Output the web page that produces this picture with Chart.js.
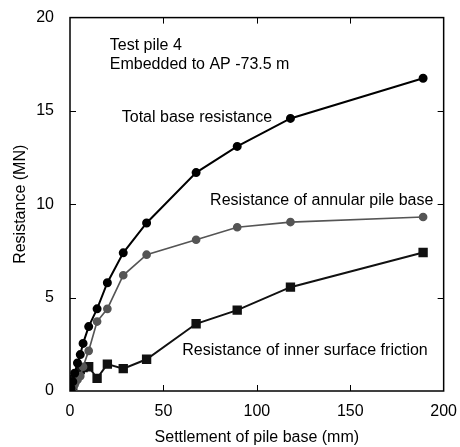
<!DOCTYPE html>
<html>
<head>
<meta charset="utf-8">
<script src="https://cdn.jsdelivr.net/npm/chart.js@4/dist/chart.umd.min.js"></script>
<style>
  html, body { margin: 0; padding: 0; background: #fff; }
  #wrap { width: 460px; height: 447px; }
</style>
</head>
<body>
<div id="wrap"><canvas id="pileChart" width="460" height="447"></canvas></div>
<script>
// settlement of pile base (mm), shared by all three curves
const settlement = [0, 0.5, 1.5, 2.5, 4, 5.5, 7, 10, 14.5, 20, 28.5, 41, 67.5, 89.5, 118, 189];
const totalBase = [0, 0.15, 0.5, 0.95, 1.5, 1.95, 2.55, 3.45, 4.4, 5.8, 7.4, 9.0, 11.7, 13.1, 14.6, 16.75];
const annularBase = [0, 0.05, 0.2, 0.35, 0.6, 0.8, 1.3, 2.15, 3.72, 4.4, 6.2, 7.3, 8.1, 8.77, 9.05, 9.32];
const innerFriction = [0, 0.1, 0.3, 0.6, 0.9, 1.15, 1.25, 1.3, 0.68, 1.44, 1.2, 1.7, 3.6, 4.33, 5.56, 7.42];

const xTicks = [0, 50, 100, 150, 200];
const yTicks = [0, 5, 10, 15, 20];

// text placed in data coordinates
const notes = [
    { text: 'Test pile 4', x: 21.3, y: 18.48 },
    { text: 'Embedded to AP -73.5 m', x: 21.3, y: 17.49 },
    { text: 'Total base resistance', x: 27.7, y: 14.63 },
    { text: 'Resistance of annular pile base', x: 75, y: 10.21 },
    { text: 'Resistance of inner surface friction', x: 60.1, y: 2.19 }
];

const FONT = 'Liberation Sans, Arial, Helvetica, sans-serif';

const toPoints = (ys) => settlement.map((x, i) => ({ x: x, y: ys[i] }));

// frame on all four sides with inward ticks, plus the labels
const framePlugin = {
    id: 'frame',
    afterDatasetsDraw(chart) {
        const { ctx, chartArea: a, scales } = chart;
        ctx.save();
        ctx.strokeStyle = '#000';
        ctx.lineWidth = 1.5;
        ctx.strokeRect(a.left, a.top, a.right - a.left, a.bottom - a.top);
        ctx.lineWidth = 1;
        ctx.beginPath();
        xTicks.slice(1, -1).forEach(v => {
            const px = Math.round(scales.x.getPixelForValue(v)) + 0.5;
            ctx.moveTo(px, a.bottom); ctx.lineTo(px, a.bottom - 6);
            ctx.moveTo(px, a.top); ctx.lineTo(px, a.top + 6);
        });
        yTicks.slice(1, -1).forEach(v => {
            const py = Math.round(scales.y.getPixelForValue(v)) + 0.5;
            ctx.moveTo(a.left, py); ctx.lineTo(a.left + 6, py);
            ctx.moveTo(a.right, py); ctx.lineTo(a.right - 6, py);
        });
        ctx.stroke();

        ctx.fillStyle = '#000';
        ctx.font = '16px ' + FONT;
        ctx.textBaseline = 'middle';
        ctx.textAlign = 'left';
        notes.forEach(n => {
            ctx.fillText(n.text, scales.x.getPixelForValue(n.x), scales.y.getPixelForValue(n.y));
        });
        ctx.restore();
    }
};

new Chart(document.getElementById('pileChart'), {
    type: 'scatter',
    data: {
        datasets: [
            {
                label: 'Resistance of inner surface friction',
                data: toPoints(innerFriction),
                showLine: true,
                borderColor: '#111',
                backgroundColor: '#111',
                borderWidth: 2,
                pointStyle: 'rect',
                pointRadius: 5.2,
                order: 3
            },
            {
                label: 'Resistance of annular pile base',
                data: toPoints(annularBase),
                showLine: true,
                borderColor: '#555',
                backgroundColor: '#555',
                borderWidth: 1.7,
                pointStyle: 'circle',
                pointRadius: 3.5,
                order: 2
            },
            {
                label: 'Total base resistance',
                data: toPoints(totalBase),
                showLine: true,
                borderColor: '#000',
                backgroundColor: '#000',
                borderWidth: 2,
                pointStyle: 'circle',
                pointRadius: 3.5,
                order: 1
            }
        ]
    },
    options: {
        responsive: false,
        animation: false,
        layout: { padding: { left: 0, top: 17, right: 14, bottom: 0 } },
        plugins: {
            legend: { display: false },
            tooltip: { enabled: false }
        },
        scales: {
            x: {
                type: 'linear',
                min: 0,
                max: 200,
                afterFit: (s) => { s.height = 56; },
                afterBuildTicks: (s) => { s.ticks = xTicks.map(v => ({ value: v })); },
                grid: { display: false },
                border: { display: false },
                ticks: { color: '#000', padding: 3, font: { family: FONT, size: 16 } },
                title: {
                    display: true,
                    text: 'Settlement of pile base (mm)',
                    color: '#000',
                    font: { family: FONT, size: 16 },
                    padding: { top: 0, bottom: 0 }
                }
            },
            y: {
                type: 'linear',
                min: 0,
                max: 20,
                afterFit: (s) => { s.width = 70; },
                afterBuildTicks: (s) => { s.ticks = yTicks.map(v => ({ value: v })); },
                grid: { display: false },
                border: { display: false },
                ticks: { color: '#000', padding: 8, font: { family: FONT, size: 16 } },
                title: {
                    display: true,
                    text: 'Resistance (MN)',
                    color: '#000',
                    font: { family: FONT, size: 16 },
                    padding: { top: 11, bottom: 0 }
                }
            }
        }
    },
    plugins: [framePlugin]
});
</script>
</body>
</html>
